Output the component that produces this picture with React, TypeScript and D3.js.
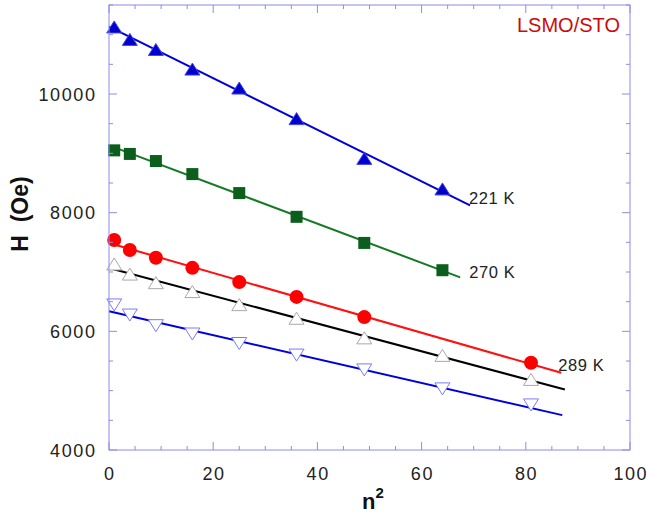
import React from "react";
import * as d3 from "d3";

// n² values at which the field was measured
const nSqA = [1, 4, 9, 16, 25, 36, 49, 64];
const nSqB = [1, 4, 9, 16, 25, 36, 49, 81];
const nSqC = [1, 4, 9, 16, 25, 36, 49, 64, 81];

// Resonance field H (Oe) for each series
const h221 = [11130, 10920, 10750, 10420, 10100, 9585, 8915, 8400];
const h270 = [9050, 8990, 8870, 8650, 8330, 7930, 7490, 7030];
const h289 = [7540, 7370, 7240, 7070, 6830, 6580, 6240, 5470];
const hOpenUp = [7135, 6965, 6820, 6670, 6450, 6220, 5890, 5595, 5190];
const hOpenDown = [6445, 6275, 6095, 5955, 5795, 5600, 5350, 5030, 4760];

// Upper end of each linear fit along n²
const fitEnds = [69.3, 67.4, 86.8, 87.5, 87];

const seriesLabels = ["221 K", "270 K", "289 K", "", ""];
const xTicks = [0, 20, 40, 60, 80, 100];
const yTicks = [4000, 6000, 8000, 10000];
const sampleName = "LSMO/STO";

type Marker = "triUp" | "square" | "circle" | "triUpOpen" | "triDownOpen";
interface Series {
  n: number[];
  h: number[];
  line: string;
  marker: Marker;
  fill: string;
  stroke: string;
  label: string;
  end: number;
  ldx: number; // label offset from the fit's end point, px
  ldy: number;
}

const series: Series[] = [
  { n: nSqA, h: h221, line: "#0000dd", marker: "triUp", fill: "#0000cc", stroke: "#4444ee", label: seriesLabels[0], end: fitEnds[0], ldx: -1, ldy: -1 },
  { n: nSqA, h: h270, line: "#137a24", marker: "square", fill: "#0b5e1c", stroke: "#0b5e1c", label: seriesLabels[1], end: fitEnds[1], ldx: 9, ldy: 1 },
  { n: nSqB, h: h289, line: "#ff1010", marker: "circle", fill: "#ff0000", stroke: "#ff0000", label: seriesLabels[2], end: fitEnds[2], ldx: -3, ldy: -2 },
  { n: nSqC, h: hOpenUp, line: "#000000", marker: "triUpOpen", fill: "#ffffff", stroke: "#a8a8a8", label: seriesLabels[3], end: fitEnds[3], ldx: 0, ldy: 0 },
  { n: nSqC, h: hOpenDown, line: "#0000dd", marker: "triDownOpen", fill: "#ffffff", stroke: "#7b7bf5", label: seriesLabels[4], end: fitEnds[4], ldx: 0, ldy: 0 },
];

function linearFit(xs: number[], ys: number[]) {
  const mx = d3.mean(xs)!;
  const my = d3.mean(ys)!;
  let sxy = 0;
  let sxx = 0;
  xs.forEach((x, i) => {
    sxy += (x - mx) * (ys[i] - my);
    sxx += (x - mx) * (x - mx);
  });
  const slope = sxy / sxx;
  return { slope, intercept: my - slope * mx };
}

const W = 647;
const H = 514;
const left = 109;
const right = 630;
const top = 5;
const bottom = 450;
const axisColor = "#8c8ce8";
const font = "'Liberation Sans', Arial, Helvetica, sans-serif";

export default function App() {
  const x = d3.scaleLinear().domain([0, 100]).range([left, right]);
  const y = d3.scaleLinear().domain([4000, 11500]).range([bottom, top]);

  const xMinor = d3.range(0, 101, 5);
  const yMinor = d3.range(4000, 11501, 500);

  const marker = (s: Series, cx: number, cy: number, key: number) => {
    const tw = 7.5;
    const th = 6;
    switch (s.marker) {
      case "triUp":
      case "triUpOpen":
        return (
          <path
            key={key}
            d={`M${cx},${cy - th}L${cx + tw},${cy + th}L${cx - tw},${cy + th}Z`}
            fill={s.fill}
            stroke={s.stroke}
            strokeWidth={1}
          />
        );
      case "triDownOpen":
        return (
          <path
            key={key}
            d={`M${cx - tw},${cy - th}L${cx + tw},${cy - th}L${cx},${cy + th}Z`}
            fill={s.fill}
            stroke={s.stroke}
            strokeWidth={1}
          />
        );
      case "square":
        return <rect key={key} x={cx - 6} y={cy - 6} width={12} height={12} fill={s.fill} />;
      default:
        return <circle key={key} cx={cx} cy={cy} r={7} fill={s.fill} />;
    }
  };

  const fits = series.map((s) => linearFit(s.n, s.h));

  return (
    <svg
      width={W}
      height={H}
      style={{ position: "absolute", left: 0, top: 0, background: "#fff" }}
      fontFamily={font}
    >
      {/* fitted lines */}
      {series.map((s, i) => {
        const { slope, intercept } = fits[i];
        const pts: [number, number][] = [
          [x(0), y(intercept)],
          [x(s.end), y(intercept + slope * s.end)],
        ];
        const path = d3.line()(pts);
        return <path key={`l${i}`} d={path ?? ""} stroke={s.line} strokeWidth={2} fill="none" />;
      })}

      {/* data markers */}
      {series.map((s, i) => (
        <g key={`m${i}`}>{s.n.map((n, j) => marker(s, x(n), y(s.h[j]), j))}</g>
      ))}

      {/* series labels */}
      {series.map((s, i) => {
        if (!s.label) return null;
        const { slope, intercept } = fits[i];
        const ex = x(s.end);
        const ey = y(intercept + slope * s.end);
        return (
          <text
            key={`t${i}`}
            x={ex + s.ldx}
            y={ey + s.ldy}
            fontSize={16.5}
            letterSpacing={0.6}
            fill="#222"
          >
            {s.label}
          </text>
        );
      })}

      {/* frame */}
      <rect x={left} y={top} width={right - left} height={bottom - top} fill="none" stroke={axisColor} strokeWidth={1} />

      {/* x ticks, bottom and top, pointing inward */}
      {xMinor.map((v) => {
        const len = v % 20 === 0 ? 8 : 4;
        return (
          <g key={`xt${v}`} stroke={axisColor} strokeWidth={1}>
            <line x1={x(v)} x2={x(v)} y1={bottom} y2={bottom - len} />
            <line x1={x(v)} x2={x(v)} y1={top} y2={top + len} />
          </g>
        );
      })}
      {/* y ticks, left and right */}
      {yMinor.map((v) => {
        const len = v % 2000 === 0 ? 8 : 4;
        return (
          <g key={`yt${v}`} stroke={axisColor} strokeWidth={1}>
            <line x1={left} x2={left + len} y1={y(v)} y2={y(v)} />
            <line x1={right} x2={right - len} y1={y(v)} y2={y(v)} />
          </g>
        );
      })}

      {/* tick labels */}
      {xTicks.map((v) => (
        <text key={`xl${v}`} x={x(v) + 0.8} y={480} textAnchor="middle" fontSize={18} letterSpacing={1.6} fill="#222">
          {v}
        </text>
      ))}
      {yTicks.map((v) => (
        <text key={`yl${v}`} x={96.5} y={y(v) + 6.5} textAnchor="end" fontSize={18} letterSpacing={1.6} fill="#222">
          {v}
        </text>
      ))}

      {/* axis titles */}
      <text
        transform="translate(28,214) rotate(-90)"
        textAnchor="middle"
        fontSize={23}
        fontWeight="bold"
        fill="#111"
        xmlSpace="preserve"
      >
        H  (Oe)
      </text>
      <text x={362} y={509} fontSize={22} fontWeight="bold" fill="#111">
        n
        <tspan fontSize={15} dy={-11}>
          2
        </tspan>
      </text>

      {/* sample name */}
      <text x={620} y={32} textAnchor="end" fontSize={20} fill="#cc0a0a">
        {sampleName}
      </text>
    </svg>
  );
}
